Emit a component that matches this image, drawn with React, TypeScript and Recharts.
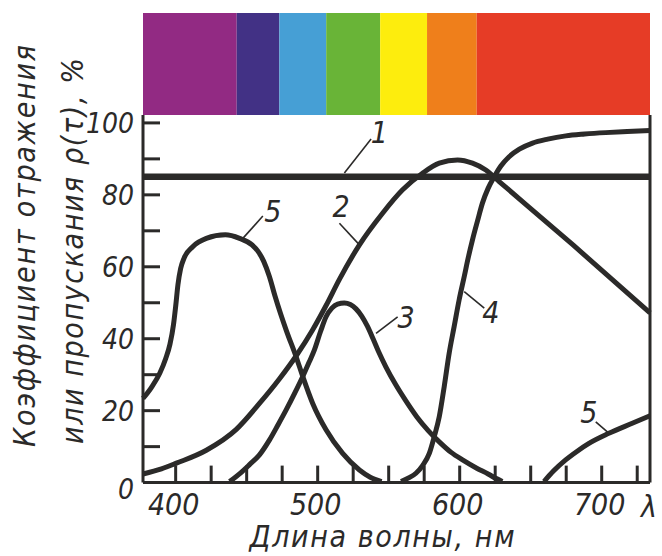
import { LineChart, Line, XAxis, YAxis, ReferenceLine, ReferenceDot, BarChart, Bar } from "recharts"

const INK = "#2b2a29"
const FONT = "'DejaVu Sans Condensed', 'DejaVu Sans', sans-serif"

const X_MIN = 377
const X_MAX = 734
const Y_MAX = 102.2

const xTicks = [400, 425, 450, 475, 500, 525, 550, 575, 600, 625, 650, 675, 700, 725]
const xLabels = [400, 500, 600, 700]
const yTicks = [0, 10, 20, 30, 40, 50, 60, 70, 80, 90, 100]
const yLabels = [0, 20, 40, 60, 80, 100]

// spectrum strip above the plot
const bandEdges = [377, 443, 473, 506, 544, 577, 612, 734]
const bandColors = ["#922a83", "#423185", "#469fd5", "#69b437", "#fded0d", "#ef7f1b", "#e63c26"]

// curves, [wavelength nm, %]
const curve1 = [[377, 85], [734, 85]]
const curve2 = [
  [377, 2.4], [390, 3.8], [400.5, 5.4], [421.6, 9], [442.7, 14.8], [459, 22], [473, 28.8],
  [484.8, 35.2], [496.5, 42.5], [506, 49.3], [515.3, 56.5], [529.4, 66.1], [545.7, 74.9],
  [559.8, 81.4], [573.8, 86], [585.6, 88.8], [598.5, 89.7], [609, 88.8], [618.4, 86.9],
  [627.8, 83.7], [680, 66], [734, 47.2],
]
const curve3 = [
  [438, 0.3], [446, 2.8], [452, 5], [459, 7.7], [466, 11.8], [472, 16], [477.8, 20.2],
  [484, 25], [489.5, 29.5], [494, 33.5], [497.7, 36.9], [502, 42], [505.9, 46.1], [510, 48.5],
  [514, 49.6], [518.8, 49.9], [523, 49.5], [527, 48.3], [531, 46.3], [535, 43.5], [539, 40],
  [543, 36.3], [548, 32.2], [555, 27.2], [562, 22.8], [570, 18.2], [578, 14.4], [586, 11.2],
  [594, 8.4], [602, 6.3], [612, 4], [620, 2.4], [625.4, 1.2], [630, 0.3],
]
const curve4 = [
  [558.7, 0.3], [564, 1.3], [569.2, 2.6], [574, 4.8], [578.6, 8.1], [582.1, 12.8], [585.6, 18.3],
  [589.1, 26.7], [592.6, 36], [596.1, 43.4], [599.6, 50.8], [603.2, 57.3], [606, 62.5],
  [609, 67.5], [612.5, 72.7], [616, 77.7], [620, 81.8], [624.3, 85], [629, 88], [634.8, 90.6],
  [642, 92.7], [651.3, 94.4], [662, 95.5], [674.7, 96.4], [688, 96.9], [702.8, 97.3],
  [718, 97.6], [734, 97.9],
]
const curve5a = [
  [377, 23.4], [383, 26.5], [388.8, 30.4], [393, 34.5], [396, 38.5], [398.5, 44], [400, 49],
  [401.6, 55], [403.5, 59.5], [406, 62.5], [412, 65.6], [421.6, 67.9], [435, 68.9], [445, 67.9],
  [454, 66], [458, 64.3], [462, 61.5], [466, 57.3], [470, 51.8], [474, 46.8], [478, 42.2],
  [484.8, 35], [489.5, 29.5], [496.5, 22], [506, 14.6], [517.6, 8.1], [529.4, 3.5], [537, 1.5],
  [545, 0.3],
]
const curve5b = [
  [659.4, 0.3], [666, 3.2], [674.6, 6.3], [683, 8.8], [691, 10.9], [705, 13.7], [721.5, 16.5], [734, 18.6],
]

// callout numbers: leader from -> to, text at
const callouts = [
  { text: "1", from: [518.8, 86.1], to: [537.6, 95.5], at: [543.4, 97.4] },
  { text: "2", from: [529.4, 66.1], to: [515.3, 72.1], at: [516.5, 76.9] },
  { text: "5", from: [447.3, 67.9], to: [461.4, 74.1], at: [468.4, 75.5] },
  { text: "3", from: [541.1, 41.5], to: [556.3, 46.1], at: [562.2, 45.9] },
  { text: "4", from: [603.2, 53.1], to: [617.3, 48.5], at: [621.9, 47.3] },
  { text: "5", from: [705.2, 13.7], to: [695.8, 16.9], at: [691, 19.5] },
]

const pts = (arr: number[][]) => arr.map(([x, y]) => ({ x, y }))

// one stacked row: an invisible lead-in up to X_MIN, then each band's width
const stripRow: Record<string, any> = { name: "spectrum", lead: bandEdges[0] }
bandColors.forEach((_, i) => {
  stripRow["b" + i] = bandEdges[i + 1] - bandEdges[i]
})

const textStyle = { fontFamily: FONT, fontStyle: "italic", fill: INK } as const

const XTick = ({ x, y, payload }: any) => (
  <g>
    <line x1={x} y1={y} x2={x} y2={y - 17} stroke={INK} strokeWidth={3} />
    {xLabels.includes(payload.value) && (
      <text x={x - 2} y={y + 32} textAnchor="middle" fontSize={30} {...textStyle}>
        {payload.value}
      </text>
    )}
  </g>
)

const YTick = ({ x, y, payload }: any) => (
  <g>
    {payload.value !== 0 && <line x1={x} y1={y} x2={x + 17} y2={y} stroke={INK} strokeWidth={3} />}
    {yLabels.includes(payload.value) && (
      <text x={x - 9} y={y + (payload.value === 0 ? 16 : 10)} textAnchor="end" fontSize={28} {...textStyle}>
        {payload.value}
      </text>
    )}
  </g>
)

const calloutText = (t: string) => (p: any) => (
  <text x={p.cx} y={p.cy} textAnchor="middle" dominantBaseline="central" fontSize={30} {...textStyle}>
    {t}
  </text>
)

const series = [curve2, curve3, curve4, curve5a, curve5b]

export default function App() {
  return (
    <div style={{ position: "absolute", left: 0, top: 0, width: 662, height: 556, background: "#fff" }}>
      <div style={{ position: "absolute", left: 0, top: 13 }}>
        <BarChart
          width={662}
          height={102}
          data={[stripRow]}
          layout="vertical"
          barCategoryGap={0}
          margin={{ top: 0, right: 12, bottom: 0, left: 143 }}
        >
          <XAxis type="number" domain={[X_MIN, X_MAX]} allowDataOverflow hide />
          <YAxis type="category" dataKey="name" hide />
          <Bar dataKey="lead" stackId="s" fill="none" isAnimationActive={false} />
          {bandColors.map((c, i) => (
            <Bar key={i} dataKey={"b" + i} stackId="s" fill={c} isAnimationActive={false} />
          ))}
        </BarChart>
      </div>

      <div style={{ position: "absolute", left: 0, top: 0 }}>
        <LineChart width={662} height={556} margin={{ top: 115, right: 12, bottom: 33.4, left: 93 }}>
          <XAxis
            type="number"
            dataKey="x"
            domain={[X_MIN, X_MAX]}
            ticks={xTicks}
            tick={<XTick />}
            tickSize={0}
            tickMargin={0}
            height={40}
            axisLine={{ stroke: INK, strokeWidth: 3 }}
            tickLine={false}
            allowDuplicatedCategory={false}
          />
          <YAxis
            type="number"
            domain={[0, Y_MAX]}
            ticks={yTicks}
            tick={<YTick />}
            tickSize={0}
            tickMargin={0}
            width={50}
            axisLine={{ stroke: INK, strokeWidth: 3 }}
            tickLine={false}
            interval={0}
          />
          <ReferenceLine x={X_MAX} stroke={INK} strokeWidth={3} />
          <Line
            data={pts(curve1)}
            dataKey="y"
            type="linear"
            stroke={INK}
            strokeWidth={6.5}
            dot={false}
            isAnimationActive={false}
          />
          {series.map((s, i) => (
            <Line
              key={i}
              data={pts(s)}
              dataKey="y"
              type="monotone"
              stroke={INK}
              strokeWidth={5}
              dot={false}
              isAnimationActive={false}
            />
          ))}
          {callouts.map((c, i) => (
            <ReferenceLine
              key={"l" + i}
              segment={[
                { x: c.from[0], y: c.from[1] },
                { x: c.to[0], y: c.to[1] },
              ]}
              stroke={INK}
              strokeWidth={1.6}
            />
          ))}
          {callouts.map((c, i) => (
            <ReferenceDot key={"t" + i} x={c.at[0]} y={c.at[1]} r={0} shape={calloutText(c.text)} />
          ))}
        </LineChart>
      </div>

      <svg width={662} height={556} style={{ position: "absolute", left: 0, top: 0, pointerEvents: "none" }}>
        <text
          x={35}
          y={246}
          transform="rotate(-90 35 246)"
          textAnchor="middle"
          fontSize={30}
          textLength={402}
          lengthAdjust="spacing"
          {...textStyle}
        >
          Коэффициент отражения
        </text>
        <text
          x={83}
          y={251}
          transform="rotate(-90 83 251)"
          textAnchor="middle"
          fontSize={30}
          textLength={386}
          lengthAdjust="spacing"
          {...textStyle}
        >
          или пропускания ρ(τ), %
        </text>
        <text x={382} y={547} textAnchor="middle" fontSize={30} textLength={265} lengthAdjust="spacing" {...textStyle}>
          Длина волны, нм
        </text>
        <text x={649} y={517} textAnchor="middle" fontSize={30} {...textStyle}>
          λ
        </text>
      </svg>
    </div>
  )
}
